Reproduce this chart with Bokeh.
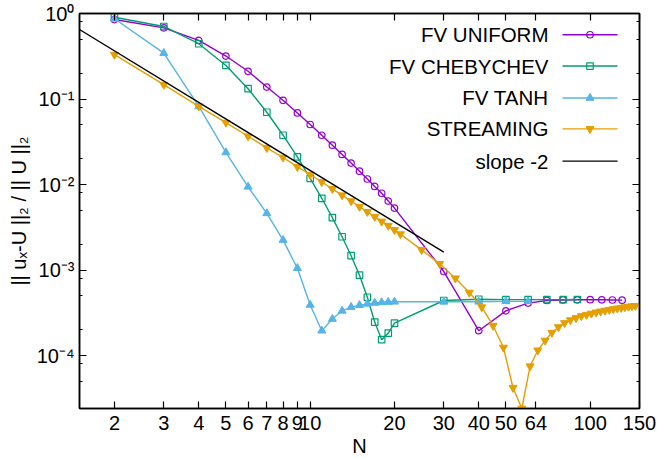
from bokeh.plotting import figure
from bokeh.models import (FixedTicker, Range1d, LinearScale, LogAxis,
                          CustomJSTickFormatter)
from bokeh.embed import file_html
from bokeh.resources import INLINE
from bokeh.core.properties import value

# ---- convergence data: relative L2 error of u_x versus resolution N ----
n_uniform = [2, 3, 4, 5, 6, 7, 8, 9, 10, 11, 12, 13, 14, 15, 16, 17, 18, 19, 20,
             30, 40, 50, 60, 70, 80, 90, 100, 110, 120, 130]
err_uniform = [0.85, 0.68, 0.484, 0.318, 0.211, 0.138, 0.0966, 0.0687, 0.0503,
               0.0377, 0.0288, 0.0225, 0.0178, 0.0143, 0.0116, 0.0095, 0.0079,
               0.0064, 0.0053, 9.6e-4, 1.95e-4, 3.33e-4, 4.1e-4, 4.4e-4, 4.46e-4,
               4.48e-4, 4.5e-4, 4.48e-4, 4.46e-4, 4.44e-4]

n_cheb = [2, 3, 4, 5, 6, 7, 8, 9, 10, 11, 12, 13, 14, 15, 16, 17, 18, 19, 20,
          30, 40, 50, 60, 70, 80, 90]
err_cheb = [0.905, 0.705, 0.443, 0.247, 0.132, 0.070, 0.0377, 0.0211, 0.0118,
            0.0069, 0.0041, 0.00245, 0.00147, 8.7e-4, 4.8e-4, 2.46e-4, 1.53e-4,
            1.83e-4, 2.39e-4, 4.4e-4, 4.55e-4, 4.5e-4, 4.5e-4, 4.5e-4, 4.5e-4,
            4.52e-4]

n_tanh = [2, 3, 4, 5, 6, 7, 8, 9, 10, 11, 12, 13, 14, 15, 16, 17, 18, 19, 20,
          30, 40, 50, 60]
err_tanh = [0.867, 0.344, 0.082, 0.0237, 0.0094, 0.0046, 0.00224, 0.00105,
            3.9e-4, 1.95e-4, 2.67e-4, 3.33e-4, 3.68e-4, 3.88e-4, 4.02e-4,
            4.12e-4, 4.18e-4, 4.22e-4, 4.25e-4, 4.25e-4, 4.25e-4, 4.3e-4, 4.3e-4]

n_stream = [2, 3, 4, 5, 6, 7, 8, 9, 10, 11, 12, 13, 14, 15, 16, 17, 18, 19, 20,
            21, 25, 29, 33, 37, 41, 45, 49, 53, 57, 61, 65, 69, 73, 77, 81, 85,
            89, 93, 97, 101, 105, 109, 113, 117, 121, 125, 129, 133, 137, 141, 145]
err_stream = [0.33, 0.147, 0.082, 0.053, 0.0367, 0.0268, 0.0207, 0.0161, 0.0131,
              0.0107, 0.0089, 0.0075, 0.0064, 0.0055, 0.0048, 0.0042, 0.0037,
              0.0033, 0.00294, 0.00263, 0.00172, 0.00118, 8.0e-4, 5.45e-4,
              3.68e-4, 2.23e-4, 1.24e-4, 4.2e-5, 2.4e-5, 7.5e-5, 1.15e-4, 1.5e-4,
              1.85e-4, 2.15e-4, 2.4e-4, 2.6e-4, 2.75e-4, 2.9e-4, 3.0e-4, 3.1e-4,
              3.2e-4, 3.28e-4, 3.36e-4, 3.43e-4, 3.5e-4, 3.56e-4, 3.62e-4,
              3.68e-4, 3.73e-4, 3.78e-4, 3.82e-4]

# second-order reference line
n_slope = [1.5, 30]
err_slope = [0.65, 1.62e-3]

x_ticks = [2, 3, 4, 5, 6, 7, 8, 9, 10, 20, 30, 40, 50, 64, 100, 150]
y_ticks = [1e-4, 1e-3, 1e-2, 1e-1, 1.0]

labels = ["FV UNIFORM", "FV CHEBYCHEV", "FV TANH", "STREAMING", "slope -2"]
colors = ["#9400d3", "#009e73", "#56b4e9", "#e69f00", "#000000"]

FONT = "Liberation Sans"
FS = "20px"
KEY_FS = "20.5px"

p = figure(width=657, height=459, x_axis_type="log", y_axis_type="log",
           x_range=Range1d(1.5, 150), y_range=Range1d(2.4e-5, 1.0),
           output_backend="svg", toolbar_location=None,
           min_border_left=79, min_border_right=18,
           min_border_top=13, min_border_bottom=50)
p.background_fill_color = "white"
p.border_fill_color = "white"
p.outline_line_color = "black"
p.outline_line_width = 1.5
p.grid.visible = False

y_minor = [m * 10.0 ** k for k in range(-5, 0) for m in (2, 5, 8)]
xt = FixedTicker(ticks=x_ticks, minor_ticks=[])
yt = FixedTicker(ticks=y_ticks, minor_ticks=y_minor)

x_fmt = CustomJSTickFormatter(code="return String(Math.round(tick));")
y_fmt = CustomJSTickFormatter(code="""
const sup = {"0":"\u2070","1":"\u00b9","2":"\u00b2","3":"\u00b3","4":"\u2074",
             "5":"\u2075","6":"\u2076","7":"\u2077","8":"\u2078","9":"\u2079",
             "-":"\u207b"};
const e = Math.round(Math.log10(tick));
return "10" + String(e).split("").map(c => sup[c]).join("");
""")
blank_fmt = CustomJSTickFormatter(code="return '';")


def style_axis(ax, show_labels):
    ax.axis_line_color = "black"
    ax.axis_line_width = 1.5
    ax.major_tick_line_color = "black"
    ax.minor_tick_line_color = "black"
    ax.major_tick_line_width = 1.2
    ax.minor_tick_line_width = 1.2
    ax.major_tick_in = 7
    ax.major_tick_out = 0
    ax.minor_tick_in = 3
    ax.minor_tick_out = 0
    ax.major_label_text_font = FONT
    ax.major_label_text_color = "black"
    ax.axis_label_text_font = FONT
    ax.axis_label_text_font_size = FS
    ax.axis_label_text_font_style = "normal"
    ax.axis_label_text_color = "black"
    if show_labels:
        ax.major_label_text_font_size = FS
    else:
        ax.major_label_text_font_size = "1px"
        ax.major_label_standoff = 0


xa = p.xaxis[0]
xa.ticker = xt
xa.formatter = x_fmt
xa.axis_label = "N"
xa.axis_label_standoff = 2
xa.major_label_standoff = 7
style_axis(xa, True)

ya = p.yaxis[0]
ya.ticker = yt
ya.formatter = y_fmt
ya.axis_label = "|| u\u2093-U ||\u2082 / || U ||\u2082"
ya.axis_label_standoff = 4
ya.major_label_standoff = 5
style_axis(ya, True)

# mirrored tick marks on the top and right edges of the frame
top = LogAxis(ticker=xt, formatter=blank_fmt)
style_axis(top, False)
p.add_layout(top, "above")
right = LogAxis(ticker=yt, formatter=blank_fmt)
style_axis(right, False)
p.add_layout(right, "right")

LW = 1.4
# FV uniform: open circles
p.line(n_uniform, err_uniform, color=colors[0], line_width=LW)
p.scatter(n_uniform, err_uniform, marker="circle", size=6.5, line_color=colors[0],
          fill_color=None, line_width=1.2)
# FV Chebychev: open squares
p.line(n_cheb, err_cheb, color=colors[1], line_width=LW)
p.scatter(n_cheb, err_cheb, marker="square", size=6.5, line_color=colors[1],
          fill_color=None, line_width=1.2)
# FV tanh: filled triangles
p.line(n_tanh, err_tanh, color=colors[2], line_width=LW)
p.scatter(n_tanh, err_tanh, marker="triangle", size=8, line_color=colors[2],
          fill_color=colors[2])
# streaming: filled inverted triangles
p.line(n_stream, err_stream, color=colors[3], line_width=LW)
p.scatter(n_stream, err_stream, marker="inverted_triangle", size=8,
          line_color=colors[3], fill_color=colors[3])
# slope -2 guide
p.line(n_slope, err_slope, color=colors[4], line_width=LW)

# ---- key: label text followed by its line sample, in frame pixels ----
p.extra_x_ranges = {"px": Range1d(0, 560)}
p.extra_y_ranges = {"px": Range1d(0, 396)}
p.extra_x_scales = {"px": LinearScale()}
p.extra_y_scales = {"px": LinearScale()}

row_y = [374.7, 343.3, 311.3, 280.3, 248.0]
text_x = 469
seg_x0, seg_x1, mark_x = 483, 538, 510.5

p.text(x=[text_x] * len(labels), y=row_y, text=labels, text_align="right",
       text_baseline="middle", text_font=value(FONT), text_font_size=KEY_FS,
       text_color="black", x_range_name="px", y_range_name="px")
p.segment(x0=[seg_x0] * len(labels), x1=[seg_x1] * len(labels), y0=row_y,
          y1=row_y, line_color=colors, line_width=LW,
          x_range_name="px", y_range_name="px")
p.scatter([mark_x], [row_y[0]], marker="circle", size=6.5, line_color=colors[0],
          fill_color=None, line_width=1.2, x_range_name="px", y_range_name="px")
p.scatter([mark_x], [row_y[1]], marker="square", size=6.5, line_color=colors[1],
          fill_color=None, line_width=1.2, x_range_name="px", y_range_name="px")
p.scatter([mark_x], [row_y[2]], marker="triangle", size=8, line_color=colors[2],
          fill_color=colors[2], x_range_name="px", y_range_name="px")
p.scatter([mark_x], [row_y[3]], marker="inverted_triangle", size=8,
          line_color=colors[3], fill_color=colors[3],
          x_range_name="px", y_range_name="px")

open("out.html", "w").write(file_html(p, INLINE))
